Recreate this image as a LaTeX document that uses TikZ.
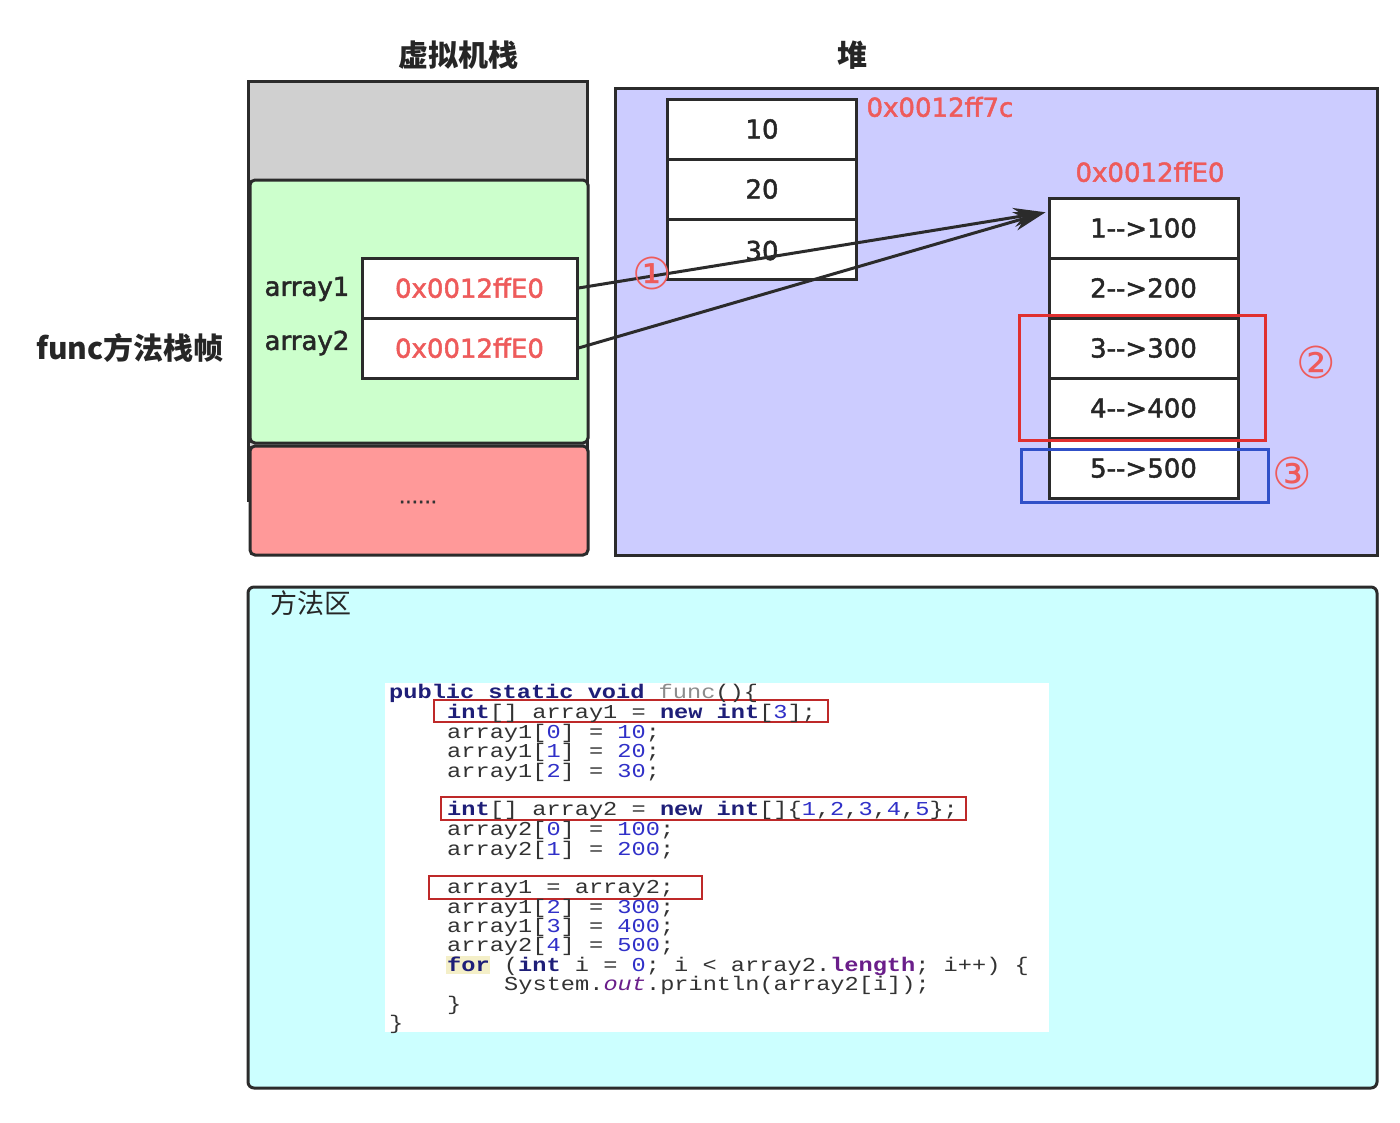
\documentclass[tikz,border=0pt]{standalone}
\usepackage{fontspec}
\usetikzlibrary{arrows.meta,calc}
\setmainfont{DejaVu Sans}
\newfontfamily\labfont[FakeBold=1.8]{DejaVu Sans}
\newfontfamily\cjk{Noto Sans CJK SC}
\newfontfamily\codefont[FakeStretch=1.2]{Liberation Mono}
\definecolor{addrred}{HTML}{EE5B5B}
\definecolor{stackgray}{HTML}{D0D0D0}
\definecolor{stackgreen}{HTML}{CCFFCC}
\definecolor{stackred}{HTML}{FF9999}
\definecolor{heapblue}{HTML}{CCCCFF}
\definecolor{methodcyan}{HTML}{CCFFFF}
\definecolor{edge}{HTML}{2B2B2B}
\definecolor{kwcol}{HTML}{1E1E78}
\definecolor{numcol}{HTML}{3030C8}
\definecolor{prpcol}{HTML}{6A1E8A}
\definecolor{txtcol}{HTML}{333333}
\definecolor{hilite}{HTML}{F4EFC8}
\definecolor{boxblue}{HTML}{3050C8}
\definecolor{boxred}{HTML}{E03030}
\newcommand{\ckw}[1]{{\bfseries\color{kwcol}#1}}
\newcommand{\cnum}[1]{{\color{numcol}#1}}
\newcommand{\cprp}[1]{{\bfseries\color{prpcol}#1}}
\begin{document}
\begin{tikzpicture}[x=1pt,y=-1pt,
  cell/.style={draw=edge,line width=3pt,fill=white,minimum width=189pt,minimum height=60pt,inner sep=0pt,font=\labfont\fontsize{26}{30}\selectfont,text=black!85},
  addr/.style={draw=edge,line width=3pt,fill=white,minimum width=215pt,minimum height=60pt,inner sep=0pt,font=\labfont\fontsize{26}{30}\selectfont,text=addrred},
  lbl/.style={font=\labfont\fontsize{26}{30}\selectfont,text=black!85},
  title/.style={font=\cjk\bfseries\fontsize{30}{34}\selectfont,text=black!85},
  redaddr/.style={font=\labfont\fontsize{26}{30}\selectfont,text=addrred},
  circ/.style={font=\fontsize{44}{46}\selectfont,text=addrred},
  code/.style={font=\codefont\fontsize{19.7}{20}\selectfont,text=txtcol,anchor=base west,inner sep=0pt},
  arr/.style={draw=edge,line width=3pt,-{Stealth[length=32pt,width=19pt]}},
]
\useasboundingbox (0,0) rectangle (1400,1122);
\fill[white] (0,0) rectangle (1400,1122);

% titles
\node[title] (t1) at (458,55) {虚拟机栈};
\node[title] (t2) at (852,55) {堆};
\node[title] (t3) at (130,348) {func方法栈帧};

% stack
\draw[draw=edge,line width=3pt,fill=stackgray] (248,81) rectangle (587,500);
\draw[draw=edge,line width=3pt,fill=stackgreen,rounded corners=5pt] (250,180) rectangle (588,443);
\draw[draw=edge,line width=3pt,fill=stackred,rounded corners=5pt] (250,446) rectangle (588,555);
\node[font=\labfont\fontsize{20}{22}\selectfont,text=black!80] (dots) at (418,502) {......};
\node[lbl] (l1) at (307,289) {array1};
\node[lbl] (l2) at (307,343) {array2};
\node[addr] (a1) at (469.5,288) {0x0012ffE0};
\node[addr] (a2) at (469.5,348) {0x0012ffE0};

% heap
\draw[draw=edge,line width=3pt,fill=heapblue] (615,88) rectangle (1377,555);
\node[cell] (c1) at (762,129) {10};
\node[cell] (c2) at (762,189) {20};
\node[cell] (c3) at (762,249) {};
\node[lbl,anchor=base] (c3t) at (762,260) {30};
\node[redaddr,anchor=west] (h1) at (863,107) {0x0012ff7c};
\node[redaddr] (h2) at (1150,172) {0x0012ffE0};
\node[cell] (b1) at (1143.5,228) {1-{}->100};
\node[cell] (b2) at (1143.5,288) {2-{}->200};
\node[cell] (b3) at (1143.5,348) {3-{}->300};
\node[cell] (b4) at (1143.5,408) {4-{}->400};
\node[cell] (b5) at (1143.5,468) {5-{}->500};
\draw[boxred,line width=3pt] (1019,315) rectangle (1265,440);
\draw[boxblue,line width=3pt] (1021,449) rectangle (1268,502);
\node[circ] (n2) at (1316,362) {②};
\node[circ] (n3) at (1292,473) {③};

% arrows
\coordinate (tip) at ($(b1.north west)!0.25!(b1.south west)+(-2,0)$);
\draw[arr] (a1.east) -- (tip);
\draw[arr] (a2.east) -- (tip);
\node[circ] (n1) at (652,273) {①};

% method area
\draw[draw=edge,line width=3pt,fill=methodcyan,rounded corners=6pt] (248,587) rectangle (1377,1088);
\node[font=\cjk\fontsize{27}{30}\selectfont,text=black!85] (ma) at (311,603) {方法区};
\fill[white] (385,683) rectangle (1049,1032);
\draw[boxred!85!black,line width=1.6pt] (434,700) rectangle (828,722);
\draw[boxred!85!black,line width=1.6pt] (441,797) rectangle (966,820);
\draw[boxred!85!black,line width=1.6pt] (429,876) rectangle (702,899);
\fill[hilite] (446,956) rectangle (490,974);

\node[code] (k1) at (389,698) {\ckw{public static void} {\color{black!45}func}()\{};
\node[code] (k2) at (447,718) {\ckw{int}[] array1 = \ckw{new int}[\cnum{3}];};
\node[code] (k3) at (447,738) {array1[\cnum{0}] = \cnum{10};};
\node[code] (k4) at (447,757) {array1[\cnum{1}] = \cnum{20};};
\node[code] (k5) at (447,777) {array1[\cnum{2}] = \cnum{30};};
\node[code] (k6) at (447,815) {\ckw{int}[] array2 = \ckw{new int}[]\{\cnum{1},\cnum{2},\cnum{3},\cnum{4},\cnum{5}\};};
\node[code] (k7) at (447,835) {array2[\cnum{0}] = \cnum{100};};
\node[code] (k8) at (447,855) {array2[\cnum{1}] = \cnum{200};};
\node[code] (k9) at (447,893) {array1 = array2;};
\node[code] (k10) at (447,913) {array1[\cnum{2}] = \cnum{300};};
\node[code] (k11) at (447,932) {array1[\cnum{3}] = \cnum{400};};
\node[code] (k12) at (447,951) {array2[\cnum{4}] = \cnum{500};};
\node[code] (k13) at (447,971) {\ckw{for} (\ckw{int} i = \cnum{0}; i < array2.\cprp{length}; i++) \{};
\node[code] (k14) at (504,990) {System.{\itshape\color{prpcol}out}.println(array2[i]);};
\node[code] (k15) at (447,1010) {\}};
\node[code] (k16) at (389,1029) {\}};
\end{tikzpicture}
\end{document}
